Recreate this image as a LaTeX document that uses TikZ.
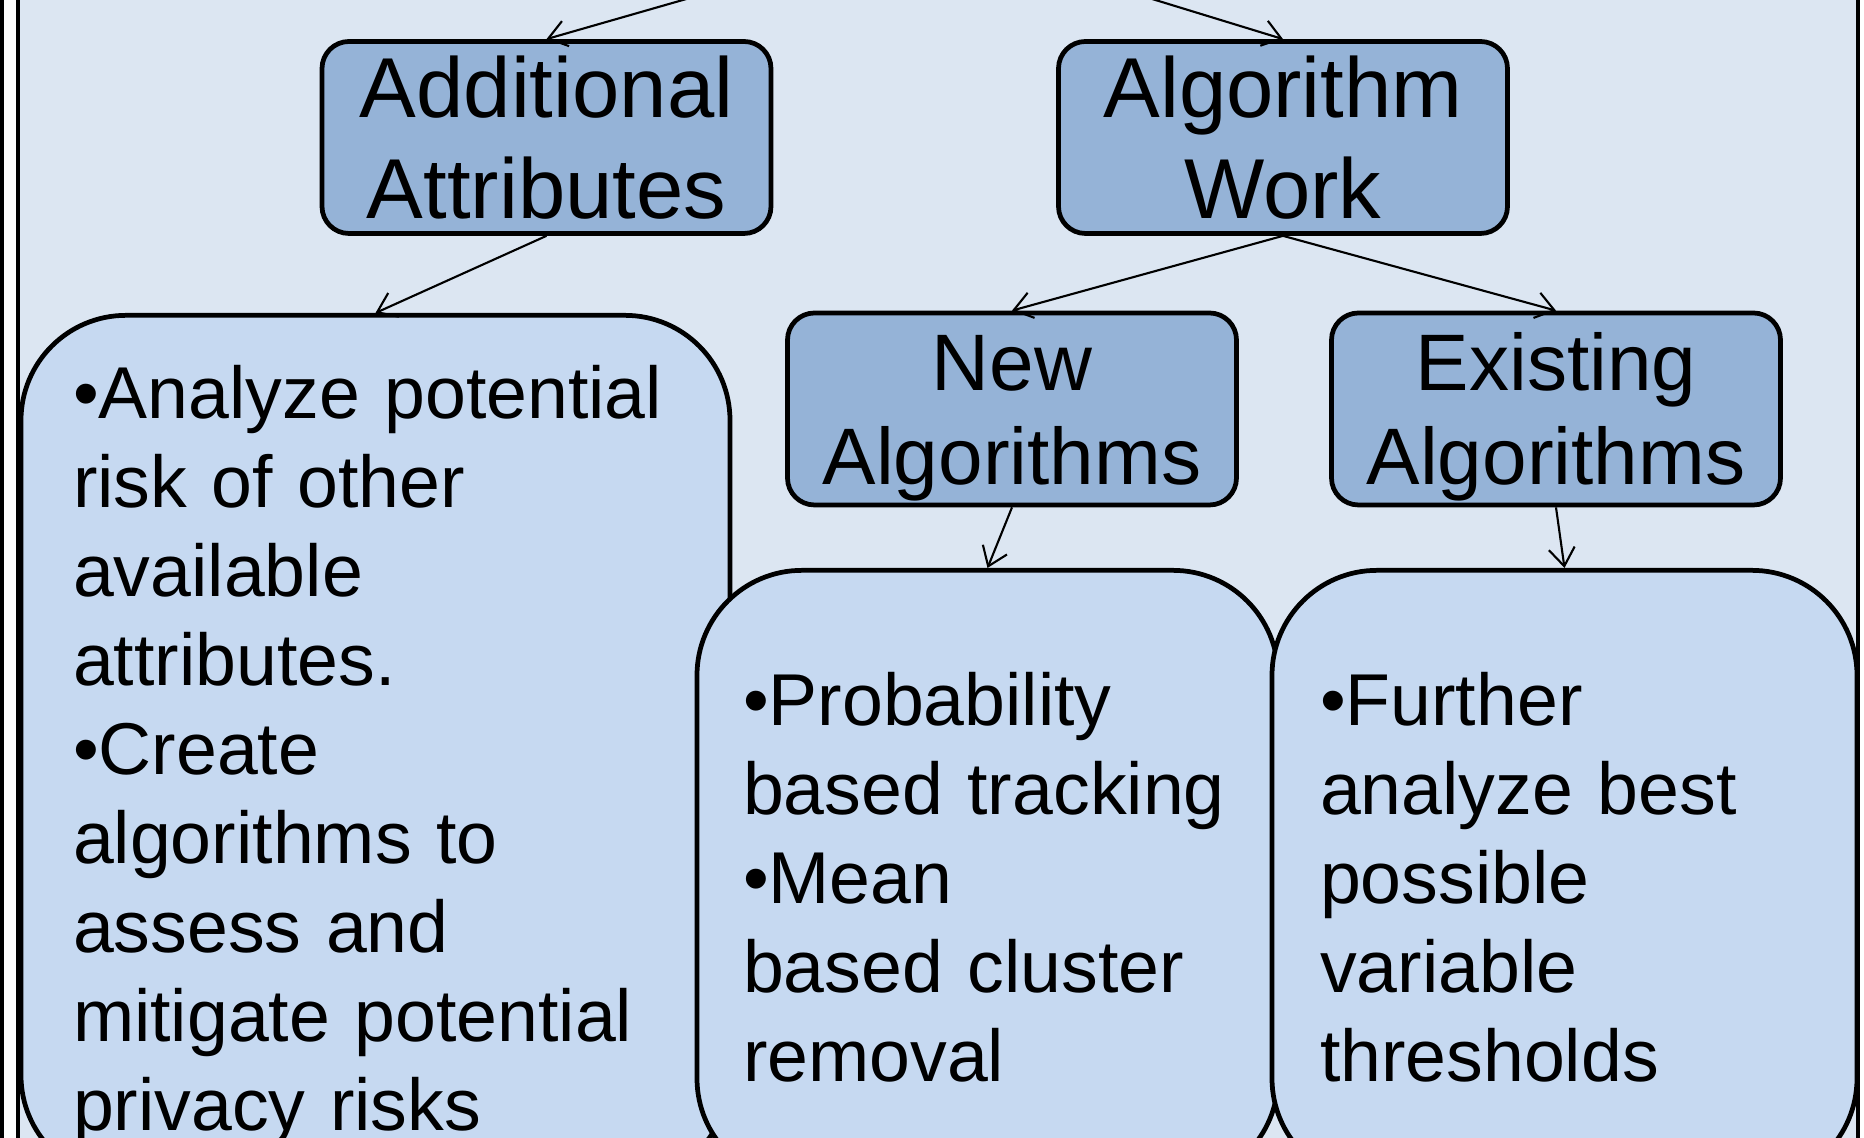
\documentclass[tikz,border=0pt]{standalone}
\usepackage{fontspec}
\setmainfont{Liberation Sans}
\usepackage{tikz}
\usetikzlibrary{positioning,arrows.meta}
\usepackage{xcolor}
\definecolor{panelbg}{HTML}{DCE6F2}
\definecolor{headfill}{HTML}{95B3D7}
\definecolor{itemfill}{HTML}{C6D9F1}

\begin{document}
\begin{tikzpicture}[>={Straight Barb[length=1.8mm,width=2.6mm]},
  head/.style={draw,line width=1.35pt,fill=headfill,rounded corners=2.7mm,
    minimum width=4.49cm,minimum height=1.92cm,inner sep=0pt,text width=4.3cm,align=center,
    font=\fontsize{24.2}{28.8}\selectfont,text height=17.5pt,text depth=28.8pt},
  subhead/.style={head,font=\fontsize{22.8}{26.8}\selectfont,text height=16.4pt,text depth=26.8pt},
  items/.style={draw,line width=1.35pt,fill=itemfill,rounded corners=10.5mm,anchor=north,
    inner xsep=4.8mm,align=left,font=\fontsize{20.9}{25.3}\selectfont,text height=15.2pt},
  link/.style={->,line width=0.6pt}]
\useasboundingbox (0,0) rectangle (18.64,11.38);
\clip (0,0) rectangle (18.64,11.38);
% panel behind the tree
\draw[line width=1.2pt,fill=panelbg] (0.18,-0.5) rectangle (18.58,12.5);
\draw[line width=1.2pt] (0.02,-0.5) -- (0.02,12.5);
\coordinate (r0) at (9.27,12.08);
\node[head] (h0) at (5.465,10.005) {Additional\\Attributes};
\node[head] (h1) at (12.83,10.005) {Algorithm\\Work};
\node[subhead] (h2) at (10.12,7.29) {New\\Algorithms};
\node[subhead] (h3) at (15.56,7.29) {Existing\\Algorithms};
\node[items,inner xsep=5.2mm,text width=6.05cm,minimum height=8.65cm,text depth=202.4pt] (b0) at (3.755,8.25)
  {•Analyze potential\\risk of other\\available\\attributes.\\•Create\\algorithms to\\assess and\\mitigate potential\\privacy risks};
\node[items,inner xsep=4.6mm,text width=4.89cm,minimum height=6.13cm,text depth=101.2pt] (b1) at (9.875,5.70)
  {•Probability\\based tracking\\•Mean\\based cluster\\removal};
\node[items,text width=4.89cm,minimum height=6.13cm,text depth=101.2pt] (b2) at (15.645,5.70)
  {•Further\\analyze best\\possible\\variable\\thresholds};
\draw[link] (r0) -- (h0.north);
\draw[link] (r0) -- (h1.north);
\draw[link] (h0.south) -- (b0.north);
\draw[link] (h1.south) -- (h2.north);
\draw[link] (h1.south) -- (h3.north);
\draw[link] (h2.south) -- (b1.north);
\draw[link] (h3.south) -- (b2.north);
\end{tikzpicture}
\end{document}
